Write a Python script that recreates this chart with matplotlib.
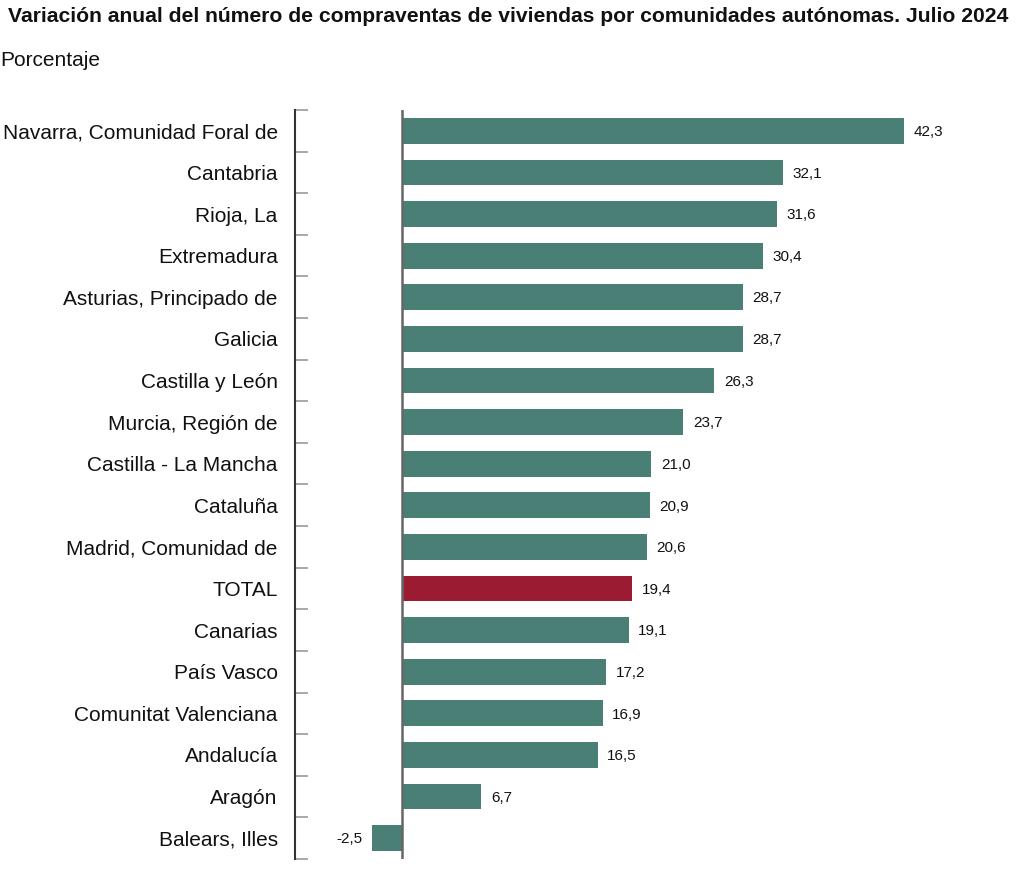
import matplotlib
matplotlib.use("Agg")
import matplotlib.pyplot as plt

plt.rcParams['font.family'] = ['Liberation Sans', 'DejaVu Sans']

categories = ["Navarra, Comunidad Foral de", "Cantabria", "Rioja, La", "Extremadura",
              "Asturias, Principado de", "Galicia", "Castilla y León", "Murcia, Región de",
              "Castilla - La Mancha", "Cataluña", "Madrid, Comunidad de", "TOTAL",
              "Canarias", "País Vasco", "Comunitat Valenciana", "Andalucía", "Aragón",
              "Balears, Illes"]
values = [42.3, 32.1, 31.6, 30.4, 28.7, 28.7, 26.3, 23.7, 21.0, 20.9, 20.6, 19.4,
          19.1, 17.2, 16.9, 16.5, 6.7, -2.5]
highlight = "TOTAL"

teal = "#4a7f76"
red = "#9b1b33"

fig = plt.figure(figsize=(10.24, 8.76), dpi=100)
ax = fig.add_axes([295/1024, 17/876, (1010-295)/1024, (859-110)/876])

n = len(categories)
ypos = list(range(n))
colors = [red if c == highlight else teal for c in categories]
ax.barh(ypos, values, height=0.62, color=colors, zorder=2)
ax.set_ylim(n - 0.5, -0.5)
ax.set_xlim(-9.0, 51.2)

ax.axvline(0, color="#666666", linewidth=1.8, zorder=3)

for y, v in zip(ypos, values):
    s = f"{v:.1f}".replace(".", ",")
    if v >= 0:
        ax.text(v + 0.8, y + 0.03, s, va="center", ha="left", fontsize=11, color="#111111")
    else:
        ax.text(v - 0.8, y + 0.03, s, va="center", ha="right", fontsize=11, color="#111111")

ax.set_yticks(ypos)
ax.set_yticklabels(categories, fontsize=15, color="#111111")
ax.tick_params(axis="y", which="major", length=0, pad=12.5)
ax.set_yticks([i - 0.5 for i in range(n + 1)], minor=True)
ax.tick_params(axis="y", which="minor", direction="in", length=9, width=1.2, color="#999999")
ax.set_xticks([])
for side in ["top", "right", "bottom"]:
    ax.spines[side].set_visible(False)
ax.spines["left"].set_color("#333333")
ax.spines["left"].set_linewidth(1.5)

fig.text(8/1024, 1 - 16/876, "Variación anual del número de compraventas de viviendas por comunidades autónomas. Julio 2024",
         fontsize=15.2, fontweight="bold", va="center", ha="left", color="#111111")
fig.text(0/1024, 1 - 61/876, "Porcentaje", fontsize=15, va="center", ha="left", color="#111111")

fig.savefig("out.png", dpi=100)
